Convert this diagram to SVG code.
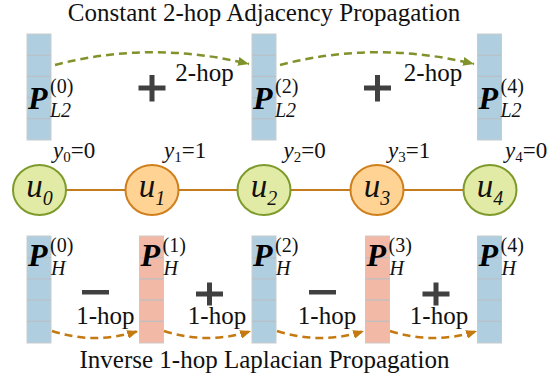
<svg xmlns="http://www.w3.org/2000/svg" width="559" height="378" viewBox="0 0 559 378">
<style>
.t{font-family:"Liberation Serif","Times New Roman",serif;fill:#111}
.title{font-size:25px}
.hop{font-size:25px}
.P{font-family:"Liberation Serif",serif;font-size:32px;font-weight:bold;font-style:italic;fill:#000}
.sup{font-family:"Liberation Serif",serif;font-size:20px;fill:#111}
.sub{font-family:"Liberation Serif",serif;font-size:20px;font-style:italic;fill:#111}
.u{font-family:"Liberation Serif",serif;font-size:33px;font-style:italic;fill:#111}
.us{font-size:20px}
.y{font-family:"Liberation Serif",serif;font-size:23px;fill:#111}
.bar-b{fill:#AFCFE1;stroke:#C9CBCC;stroke-width:1}
.bar-p{fill:#F2B9A6;stroke:#CFC9C6;stroke-width:1}
.cell{stroke:#B9C0C4;stroke-width:1.2}
.ng{fill:#E1EBA5;stroke:#7E9A2C;stroke-width:2}
.no{fill:#FED393;stroke:#D07F1D;stroke-width:2}
.edge{stroke:#C47B1E;stroke-width:2}
.dg{fill:none;stroke:#80922A;stroke-width:2.5;stroke-dasharray:8 5}
.do{fill:none;stroke:#C47A10;stroke-width:2.5;stroke-dasharray:8 5}
.op{fill:#404040}
</style>
<defs>
<marker id="ag" markerUnits="userSpaceOnUse" markerWidth="11" markerHeight="9" refX="11" refY="4.5" orient="auto"><path d="M0,0 L11,4.5 L0,9 z" fill="#80922A"/></marker>
<marker id="ao" markerUnits="userSpaceOnUse" markerWidth="11" markerHeight="9" refX="11" refY="4.5" orient="auto"><path d="M0,0 L11,4.5 L0,9 z" fill="#C47A10"/></marker>
<g id="cells-top"><line class="cell" x1="0" y1="21.2" x2="24" y2="21.2"/><line class="cell" x1="0" y1="42.4" x2="24" y2="42.4"/><line class="cell" x1="0" y1="63.6" x2="24" y2="63.6"/><line class="cell" x1="0" y1="84.8" x2="24" y2="84.8"/></g>
</defs>

<text class="t title" x="264" y="21" text-anchor="middle">Constant 2-hop Adjacency Propagation</text>
<text class="t title" x="264.5" y="368" text-anchor="middle">Inverse 1-hop Laplacian Propagation</text>

<!-- top bars -->
<g id="PL2_0">
<rect class="bar-b" x="27" y="34" width="24" height="106"/><use href="#cells-top" x="27" y="34"/>
<text class="P" x="28" y="109">P</text><text class="sup" x="50" y="93">(0)</text><text class="sub" x="50" y="117">L2</text>
</g>
<g id="PL2_2">
<rect class="bar-b" x="252" y="34" width="24" height="106"/><use href="#cells-top" x="252" y="34"/>
<text class="P" x="253" y="109">P</text><text class="sup" x="275" y="93">(2)</text><text class="sub" x="275" y="117">L2</text>
</g>
<g id="PL2_4">
<rect class="bar-b" x="477.5" y="34" width="24" height="106"/><use href="#cells-top" x="477.5" y="34"/>
<text class="P" x="478.5" y="109">P</text><text class="sup" x="500.5" y="93">(4)</text><text class="sub" x="500.5" y="117">L2</text>
</g>

<!-- bottom bars -->
<g id="PH_0">
<rect class="bar-b" x="27" y="236" width="24" height="107"/><use href="#cells-top" x="27" y="236.5"/>
<text class="P" x="28" y="266">P</text><text class="sup" x="50" y="252">(0)</text><text class="sub" x="51" y="275">H</text>
</g>
<g id="PH_1">
<rect class="bar-p" x="139.5" y="236" width="24" height="107"/><use href="#cells-top" x="139.5" y="236.5"/>
<text class="P" x="140.5" y="266">P</text><text class="sup" x="162.5" y="252">(1)</text><text class="sub" x="163.5" y="275">H</text>
</g>
<g id="PH_2">
<rect class="bar-b" x="252" y="236" width="24" height="107"/><use href="#cells-top" x="252" y="236.5"/>
<text class="P" x="253" y="266">P</text><text class="sup" x="275" y="252">(2)</text><text class="sub" x="276" y="275">H</text>
</g>
<g id="PH_3">
<rect class="bar-p" x="365.5" y="236" width="24" height="107"/><use href="#cells-top" x="365.5" y="236.5"/>
<text class="P" x="366.5" y="266">P</text><text class="sup" x="388.5" y="252">(3)</text><text class="sub" x="389.5" y="275">H</text>
</g>
<g id="PH_4">
<rect class="bar-b" x="477.5" y="236" width="24" height="107"/><use href="#cells-top" x="477.5" y="236.5"/>
<text class="P" x="478.5" y="266">P</text><text class="sup" x="500.5" y="252">(4)</text><text class="sub" x="501.5" y="275">H</text>
</g>

<!-- operators -->
<g id="ops">
<path class="op" d="M138.5,85.5 h27 v5 h-27 z M149.5,75 h5 v26.5 h-5 z"/>
<path class="op" d="M364,85.5 h27 v5 h-27 z M375,75 h5 v26.5 h-5 z"/>
<rect class="op" x="82" y="290" width="27" height="4.5"/>
<path class="op" d="M196,291.5 h27 v5 h-27 z M207,282.5 h5 v23 h-5 z"/>
<rect class="op" x="309" y="290" width="27" height="4.5"/>
<path class="op" d="M422.5,291.5 h27 v5 h-27 z M433.5,282.5 h5 v23 h-5 z"/>
</g>

<!-- connectors -->
<g id="connectors">
<line class="edge" x1="66" y1="190" x2="125.5" y2="190"/>
<line class="edge" x1="178.5" y1="190" x2="237.5" y2="190"/>
<line class="edge" x1="290.5" y1="190" x2="350.5" y2="190"/>
<line class="edge" x1="403.5" y1="190" x2="463.5" y2="190"/>
<path class="dg" d="M55,65 Q150,40 249,64" marker-end="url(#ag)"/>
<path class="dg" d="M280,65 Q375,40 474,64" marker-end="url(#ag)"/>
<path class="do" d="M52,331 Q95,345 138,331" marker-end="url(#ao)"/>
<path class="do" d="M164,331 Q208,345 251,331" marker-end="url(#ao)"/>
<path class="do" d="M277,331 Q321,345 364,331" marker-end="url(#ao)"/>
<path class="do" d="M390,331 Q434,345 477,331" marker-end="url(#ao)"/>
<text class="t hop" x="204.5" y="81" text-anchor="middle">2-hop</text>
<text class="t hop" x="433" y="81" text-anchor="middle">2-hop</text>
<text class="t hop" x="105.3" y="324" text-anchor="middle">1-hop</text>
<text class="t hop" x="217" y="324" text-anchor="middle">1-hop</text>
<text class="t hop" x="327" y="324" text-anchor="middle">1-hop</text>
<text class="t hop" x="439" y="324" text-anchor="middle">1-hop</text>
</g>

<!-- nodes -->
<g id="u0"><ellipse class="ng" cx="39.5" cy="190" rx="26.5" ry="25"/><text class="u" x="39.5" y="197" text-anchor="middle">u<tspan class="us" dy="8">0</tspan></text>
<text class="y" x="53" y="158"><tspan font-style="italic">y</tspan><tspan font-size="15" dy="4">0</tspan><tspan dy="-4">=0</tspan></text></g>
<g id="u1"><ellipse class="no" cx="152" cy="190" rx="26.5" ry="25"/><text class="u" x="152" y="197" text-anchor="middle">u<tspan class="us" dy="8">1</tspan></text>
<text class="y" x="164" y="158"><tspan font-style="italic">y</tspan><tspan font-size="15" dy="4">1</tspan><tspan dy="-4">=1</tspan></text></g>
<g id="u2"><ellipse class="ng" cx="264" cy="190" rx="26.5" ry="25"/><text class="u" x="264" y="197" text-anchor="middle">u<tspan class="us" dy="8">2</tspan></text>
<text class="y" x="283.5" y="158"><tspan font-style="italic">y</tspan><tspan font-size="15" dy="4">2</tspan><tspan dy="-4">=0</tspan></text></g>
<g id="u3"><ellipse class="no" cx="377" cy="190" rx="26.5" ry="25"/><text class="u" x="377" y="197" text-anchor="middle">u<tspan class="us" dy="8">3</tspan></text>
<text class="y" x="388" y="158"><tspan font-style="italic">y</tspan><tspan font-size="15" dy="4">3</tspan><tspan dy="-4">=1</tspan></text></g>
<g id="u4"><ellipse class="ng" cx="490" cy="190" rx="26.5" ry="25"/><text class="u" x="490" y="197" text-anchor="middle">u<tspan class="us" dy="8">4</tspan></text>
<text class="y" x="505" y="158"><tspan font-style="italic">y</tspan><tspan font-size="15" dy="4">4</tspan><tspan dy="-4">=0</tspan></text></g>
</svg>
